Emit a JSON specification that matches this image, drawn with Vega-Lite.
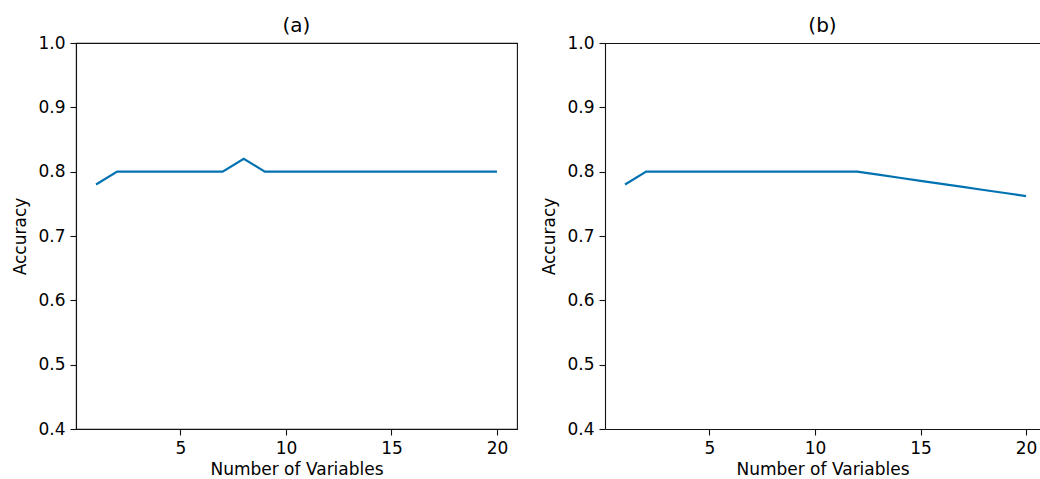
{
  "$schema": "https://vega.github.io/schema/vega-lite/v6.json",
  "background": "white",
  "padding": {"left": 11, "top": 15, "right": 0, "bottom": 0},
  "bounds": "flush",
  "spacing": 88,
  "config": {
    "font": "DejaVu Sans",
    "view": {"stroke": "#111", "strokeWidth": 1.1},
    "axis": {
      "grid": false,
      "domainColor": "#111",
      "domainWidth": 1.1,
      "tickColor": "#111",
      "tickWidth": 1.1,
      "tickSize": 6,
      "labelPadding": 5,
      "labelFontSize": 17,
      "labelColor": "#000",
      "titleFontSize": 17,
      "titleFontWeight": "normal",
      "titleColor": "#000",
      "labelFlush": false,
      "labelOverlap": false
    },
    "title": {"fontSize": 20, "fontWeight": "normal", "color": "#000", "offset": -2}
  },
  "datasets": {
    "a": [
      {"n": 1, "acc": 0.78}, {"n": 2, "acc": 0.80}, {"n": 3, "acc": 0.80}, {"n": 4, "acc": 0.80},
      {"n": 5, "acc": 0.80}, {"n": 6, "acc": 0.80}, {"n": 7, "acc": 0.80}, {"n": 8, "acc": 0.82},
      {"n": 9, "acc": 0.80}, {"n": 10, "acc": 0.80}, {"n": 11, "acc": 0.80}, {"n": 12, "acc": 0.80},
      {"n": 13, "acc": 0.80}, {"n": 14, "acc": 0.80}, {"n": 15, "acc": 0.80}, {"n": 16, "acc": 0.80},
      {"n": 17, "acc": 0.80}, {"n": 18, "acc": 0.80}, {"n": 19, "acc": 0.80}, {"n": 20, "acc": 0.80}
    ],
    "b": [
      {"n": 1, "acc": 0.78}, {"n": 2, "acc": 0.80}, {"n": 3, "acc": 0.80}, {"n": 4, "acc": 0.80},
      {"n": 5, "acc": 0.80}, {"n": 6, "acc": 0.80}, {"n": 7, "acc": 0.80}, {"n": 8, "acc": 0.80},
      {"n": 9, "acc": 0.80}, {"n": 10, "acc": 0.80}, {"n": 11, "acc": 0.80}, {"n": 12, "acc": 0.80},
      {"n": 13, "acc": 0.7953}, {"n": 14, "acc": 0.7905}, {"n": 15, "acc": 0.7858}, {"n": 16, "acc": 0.781},
      {"n": 17, "acc": 0.7763}, {"n": 18, "acc": 0.7715}, {"n": 19, "acc": 0.7668}, {"n": 20, "acc": 0.762}
    ]
  },
  "hconcat": [
    {
      "width": 441,
      "height": 386,
      "title": "(a)",
      "data": {"name": "a"},
      "mark": {"type": "line", "color": "#0072B2", "strokeWidth": 2.2, "clip": true},
      "encoding": {
        "x": {"field": "n", "type": "quantitative", "title": "Number of Variables",
              "scale": {"domain": [0.05, 20.95], "nice": false, "zero": false},
              "axis": {"values": [5, 10, 15, 20], "titlePadding": 5}},
        "y": {"field": "acc", "type": "quantitative", "title": "Accuracy",
              "scale": {"domain": [0.4, 1.0], "nice": false, "zero": false},
              "axis": {"values": [0.4, 0.5, 0.6, 0.7, 0.8, 0.9, 1.0], "format": ".1f", "titlePadding": 8}}
      }
    },
    {
      "width": 435,
      "height": 386,
      "title": "(b)",
      "view": {"stroke": null},
      "layer": [
        {
          "data": {"name": "b"},
          "mark": {"type": "line", "color": "#0072B2", "strokeWidth": 2.2, "clip": true},
          "encoding": {
            "x": {"field": "n", "type": "quantitative", "title": "Number of Variables",
                  "scale": {"domain": [0.05, 20.66], "nice": false, "zero": false},
                  "axis": {"values": [5, 10, 15, 20], "titlePadding": 5}},
            "y": {"field": "acc", "type": "quantitative", "title": "Accuracy",
                  "scale": {"domain": [0.4, 1.0], "nice": false, "zero": false},
                  "axis": {"values": [0.4, 0.5, 0.6, 0.7, 0.8, 0.9, 1.0], "format": ".1f", "titlePadding": 8}}
          }
        },
        {
          "data": {"values": [{}]},
          "mark": {"type": "rule", "color": "#111", "strokeWidth": 1.1, "yOffset": 0.5},
          "encoding": {"y": {"datum": 1.0}}
        }
      ]
    }
  ]
}
